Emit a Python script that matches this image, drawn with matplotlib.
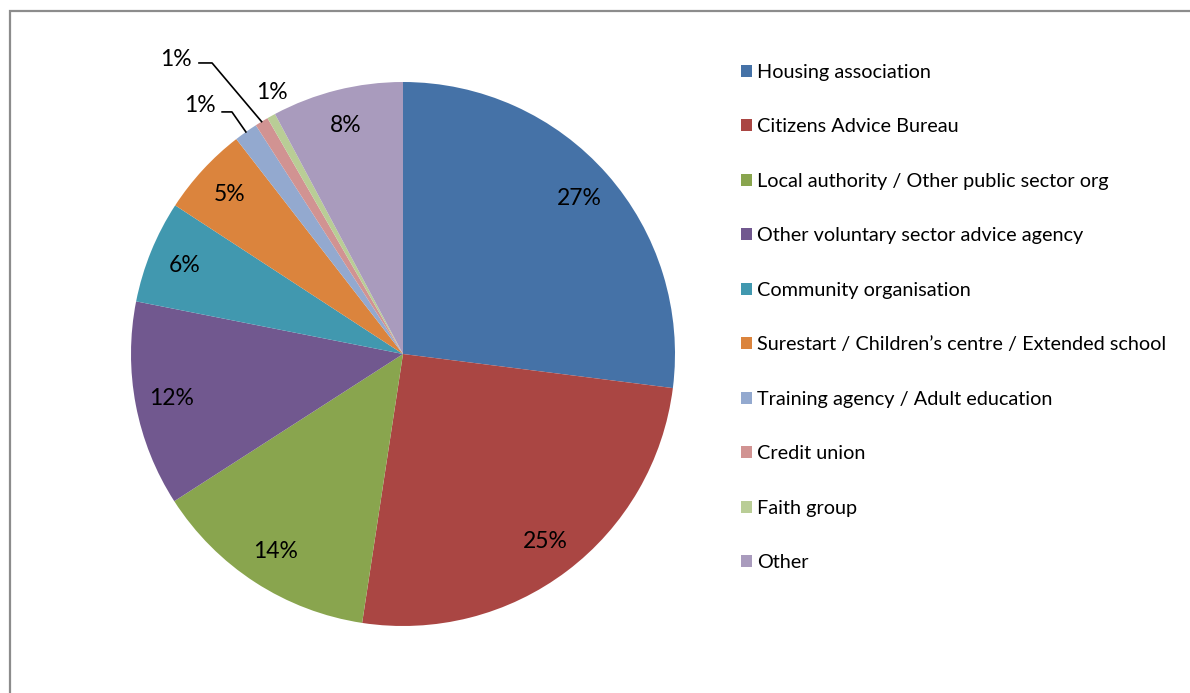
import numpy as np
import matplotlib.pyplot as plt
from matplotlib.patches import Rectangle

categories = [
    "Housing association",
    "Citizens Advice Bureau",
    "Local authority / Other public sector org",
    "Other voluntary sector advice agency",
    "Community organisation",
    "Surestart / Children\u2019s centre / Extended school",
    "Training agency / Adult education",
    "Credit union",
    "Faith group",
    "Other",
]
shares = [27.0, 25.4, 13.5, 12.2, 6.1, 5.3, 1.4, 0.8, 0.5, 7.8]
pct_labels = ["27%", "25%", "14%", "12%", "6%", "5%", "1%", "1%", "1%", "8%"]
colors = ["#4572A7", "#AA4643", "#89A54E", "#71588F", "#4198AF",
          "#DB843D", "#93A9CF", "#D19392", "#B9CD96", "#A99BBD"]

plt.rcParams["font.family"] = ["Lato", "DejaVu Sans"]
W, H = 1190, 693
fig = plt.figure(figsize=(W / 100, H / 100), dpi=100)

# chart frame (right and bottom edges run off the picture)
fig.patches.append(Rectangle((10 / W, -0.1), 1.2, 1 - 11 / H + 0.1,
                             transform=fig.transFigure, fill=False,
                             edgecolor="#8c8c8c", linewidth=1.6))

# pie axes: centre (403, 354) px, radius 272 px
cx, cy, r = 403, 354, 272
ax = fig.add_axes([(cx - r) / W, (H - cy - r) / H, 2 * r / W, 2 * r / H])

wedges, _ = ax.pie(shares, colors=colors, startangle=90, counterclock=False,
                   radius=1, wedgeprops=dict(edgecolor="none"))
ax.set_xlim(-1, 1)
ax.set_ylim(-1, 1)
ax.set_aspect("equal")
ax.axis("off")

pie_fs = 16.5
# the three 1% labels sit outside the pie, two with leader lines
small = {6: (-0.746, 0.915), 7: (-0.835, 1.081), 8: (-0.482, 0.96)}
elbows = {6: [(-0.665, 0.89), (-0.629, 0.89)], 7: [(-0.75, 1.07), (-0.702, 1.07)]}
for i, w in enumerate(wedges):
    ang = np.deg2rad((w.theta1 + w.theta2) / 2)
    if i in small:
        x, y = small[i]
        ax.text(x, y, pct_labels[i], ha="center", va="center", fontsize=pie_fs,
                clip_on=False)
        if i in elbows:
            pts = elbows[i] + [(np.cos(ang), np.sin(ang))]
            ax.plot([p[0] for p in pts], [p[1] for p in pts], color="black",
                    lw=1.2, clip_on=False)
    else:
        ax.text(0.865 * np.cos(ang), 0.865 * np.sin(ang), pct_labels[i],
                ha="center", va="center", fontsize=pie_fs)

fig.legend(wedges, categories, loc="upper left",
           bbox_to_anchor=(731 / W, 1 - 54 / H), frameon=False,
           fontsize=14.3, handlelength=0.55, handleheight=0.55,
           handletextpad=0.25, labelspacing=1.886, borderpad=0)

fig.savefig("out.png", dpi=100)
